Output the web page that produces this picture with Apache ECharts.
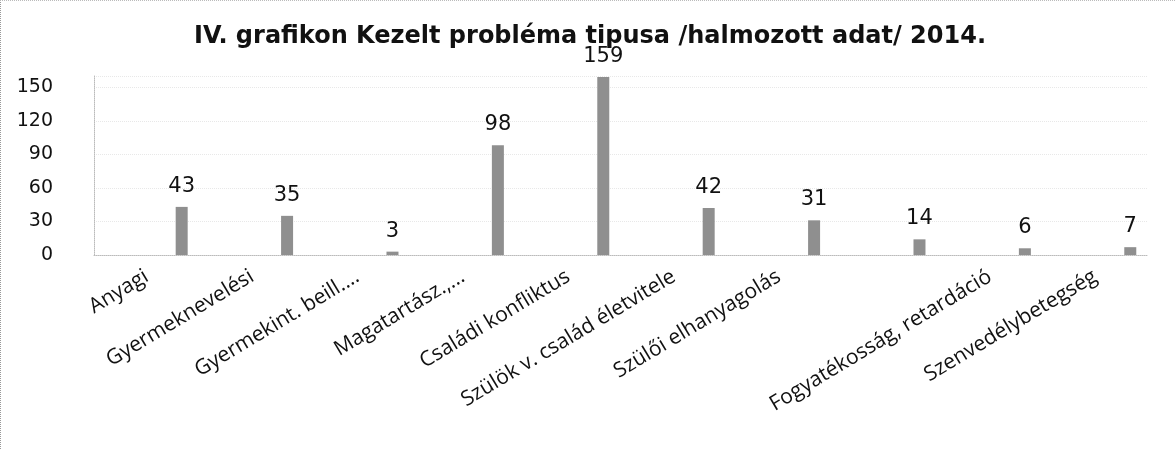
<!DOCTYPE html>
<html>
<head>
<meta charset="utf-8">
<script src="https://cdn.jsdelivr.net/npm/echarts@6/dist/echarts.min.js"></script>
<style>
  html, body { margin: 0; padding: 0; background: #fff; }
  #chart { width: 1175px; height: 449px; box-sizing: border-box; border-left: 1px dotted #999; border-top: 1px dotted #bbb; }
</style>
</head>
<body>
<div id="chart"></div>
<script>
// Kezelt probléma tipusa 2014 - 10 bars, the 8th has no readable label in the source
const categories = [
  'Anyagi', 'Gyermeknevelési', 'Gyermekint. beill....', 'Magatartász.,...',
  'Családi konfliktus', 'Szülök v. család életvitele', 'Szülői elhanyagolás',
  '', 'Fogyatékosság, retardáció', 'Szenvedélybetegség'
];
const cases = [43, 35, 3, 98, 159, 42, 31, 14, 6, 7];
const yTicks = [0, 30, 60, 90, 120, 150];

const chart = echarts.init(document.getElementById('chart'));

const option = {
  animation: false,
  title: {
    text: 'IV. grafikon Kezelt probléma tipusa /halmozott adat/ 2014.',
    left: 584,
    textAlign: 'center',
    top: 19,
    textStyle: { fontFamily: 'DejaVu Sans', fontWeight: 'bold', fontSize: 24, color: '#111' }
  },
  grid: { left: 93, right: 27, top: 75, bottom: 194, containLabel: false },
  xAxis: {
    type: 'category',
    data: categories,
    axisLine: { lineStyle: { color: '#bbb', type: 'dotted' } },
    axisTick: { lineStyle: { color: '#999' }, length: 4 },
    axisLabel: {
      interval: 0, rotate: 31, margin: 20,
      fontFamily: 'Open Sans', fontSize: 21, color: '#111'
    }
  },
  yAxis: {
    type: 'value',
    min: 0, max: 160, interval: 30,
    axisLine: { show: true, lineStyle: { color: '#bbb', type: 'dotted' } },
    axisTick: { show: false },
    splitLine: { lineStyle: { color: '#e8e8e8', type: 'dotted' } },
    axisLabel: {
      margin: 41, fontFamily: 'DejaVu Sans', fontSize: 19, color: '#111',
      formatter: v => yTicks.includes(v) ? String(v) : ''
    }
  },
  series: [
    { type: 'bar', name: 'blank', data: [], barWidth: 12 },
    {
      type: 'bar', name: 'cases', data: cases, barWidth: 12, barGap: '483%',
      itemStyle: { color: '#8f8f8f' },
      label: {
        show: true, position: 'top', distance: 10,
        fontFamily: 'DejaVu Sans', fontSize: 21, color: '#111'
      }
    }
  ]
};

chart.setOption(option);
</script>
</body>
</html>
